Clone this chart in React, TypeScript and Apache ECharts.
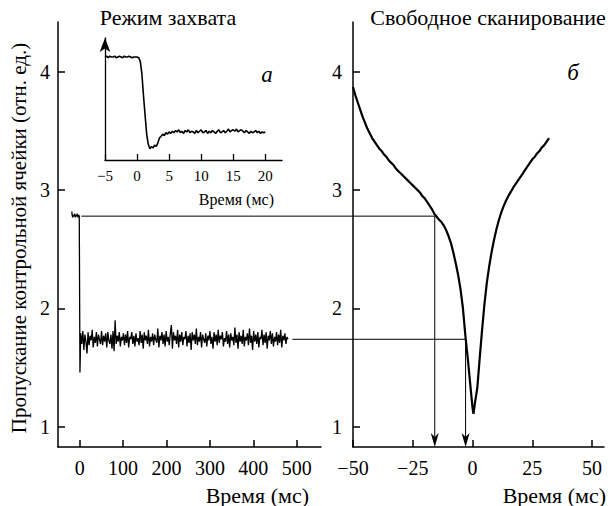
import React, { useEffect, useRef } from "react";
import * as echarts from "echarts";

const FONT = "'Liberation Serif', 'Times New Roman', serif";

// Left panel: lock mode trace (before switching on, drop, locked noise)
const LOCK_PRE_T = [-18, -17.5, -16, -14.5, -13, -11.5, -10, -8.5, -7, -5.5, -4, -2.5, -1, 0];
const LOCK_PRE_V = [2.82, 2.79, 2.77, 2.79, 2.78, 2.8, 2.77, 2.79, 2.78, 2.8, 2.77, 2.79, 2.78, 2.78];
const LOCK_DIP_T = 0.6;
const LOCK_DIP_V = 1.46;
const LOCK_STEP_MS = 2.4;
const LOCK_V = [
  1.79, 1.70, 1.81, 1.65, 1.78, 1.72, 1.62, 1.80, 1.69, 1.77, 1.73, 1.82, 1.67, 1.76, 1.71, 1.80, 1.68, 1.78, 1.74, 1.70,
  1.81, 1.69, 1.77, 1.72, 1.79, 1.67, 1.80, 1.73, 1.70, 1.78, 1.66, 1.81, 1.64, 1.90, 1.70, 1.77, 1.72, 1.80, 1.68, 1.76,
  1.73, 1.79, 1.69, 1.78, 1.71, 1.81, 1.67, 1.76, 1.74, 1.80, 1.70, 1.77, 1.68, 1.79, 1.72, 1.75, 1.69, 1.81, 1.71, 1.78,
  1.66, 1.80, 1.73, 1.77, 1.70, 1.82, 1.68, 1.76, 1.72, 1.79, 1.69, 1.78, 1.74, 1.71, 1.83, 1.67, 1.77, 1.73, 1.80, 1.70,
  1.78, 1.68, 1.81, 1.72, 1.76, 1.69, 1.79, 1.86, 1.66, 1.80, 1.73, 1.77, 1.70, 1.82, 1.67, 1.78, 1.72, 1.80, 1.69, 1.76,
  1.74, 1.81, 1.68, 1.77, 1.71, 1.79, 1.65, 1.80, 1.73, 1.78, 1.70, 1.83, 1.69, 1.76, 1.72, 1.80, 1.67, 1.78, 1.74, 1.71,
  1.79, 1.68, 1.77, 1.73, 1.81, 1.70, 1.76, 1.66, 1.80, 1.72, 1.78, 1.69, 1.82, 1.71, 1.77, 1.74, 1.80, 1.68, 1.75, 1.72,
  1.81, 1.70, 1.78, 1.67, 1.79, 1.73, 1.76, 1.69, 1.84, 1.71, 1.78, 1.66, 1.80, 1.72, 1.77, 1.70, 1.82, 1.68, 1.76, 1.73,
  1.79, 1.69, 1.83, 1.71, 1.77, 1.65, 1.81, 1.72, 1.78, 1.70, 1.80, 1.67, 1.76, 1.74, 1.82, 1.69, 1.78, 1.71, 1.80, 1.66,
  1.77, 1.73, 1.81, 1.70, 1.79, 1.68, 1.76, 1.72, 1.80, 1.69, 1.78, 1.71, 1.82, 1.67, 1.77, 1.73, 1.79, 1.70, 1.76, 1.74,
];

// Right panel: free scanning transmission curve
const SCAN_T = [
  -50, -49, -48, -47, -46, -45, -44, -43, -42, -41, -40, -39, -38, -37, -36, -35, -34, -33, -32, -31,
  -30, -29, -28, -27, -26, -25, -24, -23, -22, -21, -20, -19, -18, -17, -16, -15, -14, -13, -12, -11,
  -10, -9, -8, -7, -6, -5, -4, -3, -2, -1, 0, 0.4, 1, 2, 3, 4, 5, 6, 7, 8,
  9, 10, 11, 12, 13, 14, 15, 16, 17, 18, 19, 20, 21, 22, 23, 24, 25, 26, 27, 28,
  29, 30, 31, 32,
];
const SCAN_V = [
  3.87, 3.8, 3.74, 3.68, 3.62, 3.57, 3.52, 3.48, 3.44, 3.41, 3.38, 3.35, 3.33, 3.3, 3.28, 3.25, 3.23, 3.21, 3.18, 3.16,
  3.14, 3.12, 3.1, 3.08, 3.06, 3.04, 3.02, 3.0, 2.98, 2.95, 2.93, 2.9, 2.87, 2.84, 2.8, 2.775, 2.75, 2.73, 2.7, 2.66,
  2.61, 2.55, 2.47, 2.38, 2.28, 2.16, 2.0, 1.77, 1.58, 1.37, 1.16, 1.11, 1.2, 1.33, 1.58, 1.82, 2.04, 2.22, 2.36, 2.48,
  2.58, 2.67, 2.745, 2.81, 2.865, 2.91, 2.95, 2.985, 3.02, 3.05, 3.08, 3.11, 3.14, 3.17, 3.2, 3.23, 3.26, 3.28, 3.31, 3.33,
  3.36, 3.38, 3.41, 3.44,
];

// Inset: first milliseconds after locking, sampled every 0.25 ms from -5 ms
const INSET_START_MS = -5;
const INSET_STEP_MS = 0.25;
const INSET_V = [
  2.78, 2.79, 2.77, 2.79, 2.78, 2.78, 2.79, 2.77, 2.78, 2.79, 2.78, 2.77, 2.79, 2.78, 2.78, 2.79, 2.78, 2.77, 2.78, 2.78,
  2.78, 2.77, 2.72, 2.55, 2.25, 1.98, 1.72, 1.58, 1.52, 1.55, 1.53, 1.57, 1.55, 1.6, 1.67, 1.69, 1.72, 1.7, 1.74, 1.72,
  1.75, 1.73, 1.76, 1.74, 1.77,
  1.75, 1.78, 1.74, 1.76, 1.73, 1.77, 1.75, 1.78, 1.74, 1.76, 1.75, 1.73, 1.77, 1.74, 1.76, 1.78, 1.74, 1.75, 1.77, 1.73,
  1.76, 1.74, 1.77, 1.75, 1.73, 1.76, 1.78, 1.74, 1.75, 1.77, 1.74, 1.76, 1.79, 1.75, 1.77, 1.78, 1.76, 1.79, 1.75, 1.77,
  1.78, 1.76, 1.74, 1.77, 1.75, 1.73, 1.76, 1.74, 1.75, 1.77, 1.74, 1.76, 1.73, 1.75, 1.74, 1.75,
];

// Levels carried over from the lock trace to the scan curve
const LEVEL_BEFORE = 2.78;
const LEVEL_AFTER = 1.74;
const DETUNE_BEFORE_MS = -15.8;
const DETUNE_AFTER_MS = -2.9;
const LINK_BEFORE_START_MS = 4;
const LINK_AFTER_START_MS = 490;

const Y_TICKS = [1, 2, 3, 4];
const LOCK_X_TICKS = [0, 100, 200, 300, 400, 500];
const SCAN_X_TICKS = [-50, -25, 0, 25, 50];
const INSET_X_TICKS = [-5, 0, 5, 10, 15, 20];

const Y_MIN = 0.83;
const Y_MAX = 4.42;

const minus = (v: number) => String(v).replace("-", "\u2212");

const lineAxis = (w = 1.5) => ({
  show: true,
  onZero: false,
  lineStyle: { color: "#000", width: w },
});

export default function App() {
  const ref = useRef<HTMLDivElement>(null);

  useEffect(() => {
    if (!ref.current) return;
    const chart = echarts.init(ref.current, null, { renderer: "svg" });

    const lockData: number[][] = LOCK_PRE_T.map((t, i) => [t, LOCK_PRE_V[i]]);
    lockData.push([LOCK_DIP_T, LOCK_DIP_V]);
    LOCK_V.forEach((v, i) => lockData.push([LOCK_STEP_MS * (i + 1), v]));

    const scanData = SCAN_T.map((t, i) => [t, SCAN_V[i]]);
    const insetData = INSET_V.map((v, i) => [INSET_START_MS + INSET_STEP_MS * i, v]);

    const tickLabel = (size: number, margin: number) => ({
      color: "#000",
      fontFamily: FONT,
      fontSize: size,
      margin,
    });

    chart.setOption({
      animation: false,
      backgroundColor: "#fff",
      textStyle: { fontFamily: FONT },
      grid: [
        { left: 58, top: 22, width: 263, height: 425 },
        { left: 353, top: 22, width: 251, height: 425 },
        { left: 105, top: 38, width: 177, height: 122 },
      ],
      xAxis: [
        {
          gridIndex: 0,
          type: "value",
          min: -50,
          max: 556,
          axisLine: lineAxis(),
          axisTick: { inside: true, length: 7, customValues: LOCK_X_TICKS, lineStyle: { color: "#000", width: 1.5 } },
          axisLabel: { ...tickLabel(20, 11), customValues: LOCK_X_TICKS, formatter: minus },
          splitLine: { show: false },
        },
        {
          gridIndex: 1,
          type: "value",
          min: -50,
          max: 55,
          axisLine: lineAxis(),
          axisTick: { inside: true, length: 7, customValues: SCAN_X_TICKS, lineStyle: { color: "#000", width: 1.5 } },
          axisLabel: { ...tickLabel(20, 11), customValues: SCAN_X_TICKS, formatter: minus },
          splitLine: { show: false },
        },
        {
          gridIndex: 2,
          type: "value",
          min: -5,
          max: 22.6,
          axisLine: lineAxis(1.3),
          axisTick: { inside: true, length: 6, customValues: INSET_X_TICKS, lineStyle: { color: "#000", width: 1.3 } },
          axisLabel: { ...tickLabel(15, 8), customValues: INSET_X_TICKS, formatter: minus },
          splitLine: { show: false },
        },
      ],
      yAxis: [
        {
          gridIndex: 0,
          type: "value",
          min: Y_MIN,
          max: Y_MAX,
          axisLine: lineAxis(),
          axisTick: { inside: true, length: 7, customValues: Y_TICKS, lineStyle: { color: "#000", width: 1.5 } },
          axisLabel: { ...tickLabel(20, 8), customValues: Y_TICKS },
          splitLine: { show: false },
        },
        {
          gridIndex: 1,
          type: "value",
          min: Y_MIN,
          max: Y_MAX,
          axisLine: lineAxis(),
          axisTick: { inside: true, length: 7, customValues: Y_TICKS, lineStyle: { color: "#000", width: 1.5 } },
          axisLabel: { ...tickLabel(20, 11), customValues: Y_TICKS },
          splitLine: { show: false },
        },
        {
          gridIndex: 2,
          type: "value",
          min: 1.365,
          max: 3.04,
          axisLine: {
            ...lineAxis(1.3),
            symbol: ["none", "arrow"],
            symbolSize: [8, 14],
          },
          axisTick: { show: false },
          axisLabel: { show: false },
          splitLine: { show: false },
        },
      ],
      series: [
        {
          type: "line",
          xAxisIndex: 0,
          yAxisIndex: 0,
          data: lockData,
          showSymbol: false,
          lineStyle: { color: "#000", width: 1.3 },
        },
        {
          type: "line",
          xAxisIndex: 1,
          yAxisIndex: 1,
          data: scanData,
          showSymbol: false,
          lineStyle: { color: "#000", width: 2.2 },
        },
        {
          type: "line",
          xAxisIndex: 2,
          yAxisIndex: 2,
          data: insetData,
          showSymbol: false,
          lineStyle: { color: "#000", width: 1.6 },
        },
      ],
    });

    // Connectors from the locked levels to the matching points on the scan curve
    const px = (grid: number, x: number, y: number) =>
      chart.convertToPixel({ xAxisIndex: grid, yAxisIndex: grid }, [x, y]) as number[];
    const link = (startMs: number, level: number, detune: number) => {
      const a = px(0, startMs, level);
      const b = px(1, detune, level);
      const c = px(1, detune, Y_MIN);
      const x = b[0];
      const yb = c[1];
      return [
        {
          type: "polyline",
          shape: { points: [a, b, [x, yb - 6]] },
          style: { stroke: "#000", lineWidth: 1, fill: "none" },
          z: 10,
        },
        {
          type: "polygon",
          shape: { points: [[x, yb], [x - 4, yb - 14], [x, yb - 10], [x + 4, yb - 14]] },
          style: { fill: "#000" },
          z: 10,
        },
      ];
    };

    const text = (
      str: string,
      x: number,
      y: number,
      size: number,
      align: string,
      italic = false,
      rotation = 0
    ) => ({
      type: "text",
      x,
      y,
      rotation,
      style: {
        text: str,
        fill: "#000",
        fontFamily: FONT,
        fontSize: size,
        fontStyle: italic ? "italic" : "normal",
        align,
        verticalAlign: "middle",
      },
      z: 10,
    });

    chart.setOption({
      graphic: [
        ...link(LINK_BEFORE_START_MS, LEVEL_BEFORE, DETUNE_BEFORE_MS),
        ...link(LINK_AFTER_START_MS, LEVEL_AFTER, DETUNE_AFTER_MS),
        text("Режим захвата", 168, 17, 22, "center"),
        text("Свободное сканирование", 488, 17, 22, "center"),
        text("а", 267, 74, 23, "center", true),
        text("б", 573, 72, 23, "center", true),
        text("Время (мс)", 309, 495, 22, "right"),
        text("Время (мс)", 606, 495, 22, "right"),
        text("Время (мс)", 274, 199, 16, "right"),
        text("Пропускание контрольной ячейки (отн. ед.)", 19, 238, 21, "center", false, Math.PI / 2),
      ],
    });

    return () => chart.dispose();
  }, []);

  return (
    <div
      ref={ref}
      style={{ position: "fixed", left: 0, top: 0, width: 610, height: 506, background: "#fff" }}
    />
  );
}
